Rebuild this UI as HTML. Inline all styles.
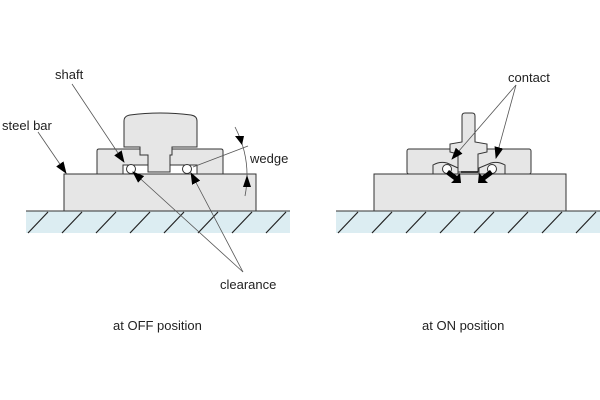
<!DOCTYPE html>
<html><head><meta charset="utf-8"><style>
html,body{margin:0;padding:0;background:#fff;}
svg{display:block;}
text{font-family:"Liberation Sans",sans-serif;font-size:13px;fill:#222;}
</style></head><body>
<svg width="600" height="400" viewBox="0 0 600 400" xmlns="http://www.w3.org/2000/svg">
<defs>
<marker id="ah" markerWidth="12" markerHeight="9" refX="11" refY="4.5" orient="auto" markerUnits="userSpaceOnUse"><path d="M0,0 L12,4.5 L0,9 z" fill="#000"/></marker>
</defs>
<rect x="26" y="211" width="264" height="22" fill="#dcedf2"/>
<line x1="26" y1="211" x2="290" y2="211" stroke="#333" stroke-width="1"/>
<g stroke="#222" stroke-width="1.2">
<line x1="28" y1="233" x2="48" y2="212"/><line x1="62" y1="233" x2="82" y2="212"/><line x1="96" y1="233" x2="116" y2="212"/><line x1="130" y1="233" x2="150" y2="212"/><line x1="164" y1="233" x2="184" y2="212"/><line x1="198" y1="233" x2="218" y2="212"/><line x1="232" y1="233" x2="252" y2="212"/><line x1="266" y1="233" x2="286" y2="212"/>
</g>
<rect x="336" y="211" width="264" height="22" fill="#dcedf2"/>
<line x1="336" y1="211" x2="600" y2="211" stroke="#333" stroke-width="1"/>
<g stroke="#222" stroke-width="1.2">
<line x1="338" y1="233" x2="358" y2="212"/><line x1="372" y1="233" x2="392" y2="212"/><line x1="406" y1="233" x2="426" y2="212"/><line x1="440" y1="233" x2="460" y2="212"/><line x1="474" y1="233" x2="494" y2="212"/><line x1="508" y1="233" x2="528" y2="212"/><line x1="542" y1="233" x2="562" y2="212"/><line x1="576" y1="233" x2="596" y2="212"/>
</g>
<g fill="#e6e6e6" stroke="#333" stroke-width="1">
<!-- LEFT -->
<rect x="64" y="174" width="192" height="37"/>
<path d="M97,174 L97,151 Q97,149 99,149 L140,149 L140,155 L148,155 L148,165 L123,165 L123,174 Z"/>
<path d="M223,174 L223,151 Q223,149 221,149 L172,149 L172,155 L170,155 L170,165 L197,165 L197,174 Z"/>
<path d="M124,147 L124,121 Q124,116 130,115 Q160,111 191,115 Q197,116 197,121 L197,147 L172,147 L172,155 L170,155 L170,172 L148,172 L148,155 L140,155 L140,147 Z"/>
<circle cx="131" cy="169" r="4.5" fill="#fff"/>
<circle cx="187" cy="169" r="4.5" fill="#fff"/>
<!-- RIGHT -->
<rect x="374" y="174" width="192" height="37"/>
<rect x="407" y="149" width="124" height="25" rx="2"/>
<path d="M433,174 L433,165 Q440,161 447,163 L458,168 L458,174 Z"/>
<path d="M505,174 L505,165 Q498,161 491,163 L479,168 L479,174 Z"/>
<path d="M462,142 L462,116 Q462,113 465,113 L472,113 Q475,113 475,116 L475,142 L487,144 L487,152 L478,154 L478,172 L458,172 L458,154 L450,152 L450,144 Z"/>
<circle cx="447" cy="169" r="4.5" fill="#fff"/>
<circle cx="492" cy="169" r="4.5" fill="#fff"/>
</g>
<!-- black thick arrows -->
<path d="M449,170 L457,176 L460,173 L461,183 L451,183 L454,180 L446,174 Z" fill="#000"/>
<path d="M490,170 L482,176 L479,173 L478,183 L488,183 L485,180 L493,174 Z" fill="#000"/>
<line x1="461" y1="172" x2="478" y2="172" stroke="#000" stroke-width="1.5"/>
<!-- leader lines -->
<g stroke="#555" stroke-width="0.8" fill="none">
<line x1="72" y1="84" x2="124" y2="162" marker-end="url(#ah)"/>
<line x1="38" y1="132" x2="66" y2="173" marker-end="url(#ah)"/>
<line x1="248" y1="146" x2="193" y2="167"/>
<line x1="243" y1="272" x2="133" y2="172" marker-end="url(#ah)"/>
<line x1="243" y1="272" x2="191" y2="173" marker-end="url(#ah)"/>
<path d="M235,127 Q252,160 245,196"/>
<line x1="516" y1="85" x2="452" y2="159" marker-end="url(#ah)"/>
<line x1="516" y1="85" x2="496" y2="158" marker-end="url(#ah)"/>
</g>
<path d="M235,136 l7,9 l2,-9 z M243,187 l4,-12 l4,12 z" fill="#000"/>
<text x="55" y="79">shaft</text>
<text x="2" y="130">steel bar</text>
<text x="250" y="163">wedge</text>
<text x="220" y="289">clearance</text>
<text x="508" y="82">contact</text>
<text x="113" y="330">at OFF position</text>
<text x="422" y="330">at ON position</text>
</svg>
</body></html>
